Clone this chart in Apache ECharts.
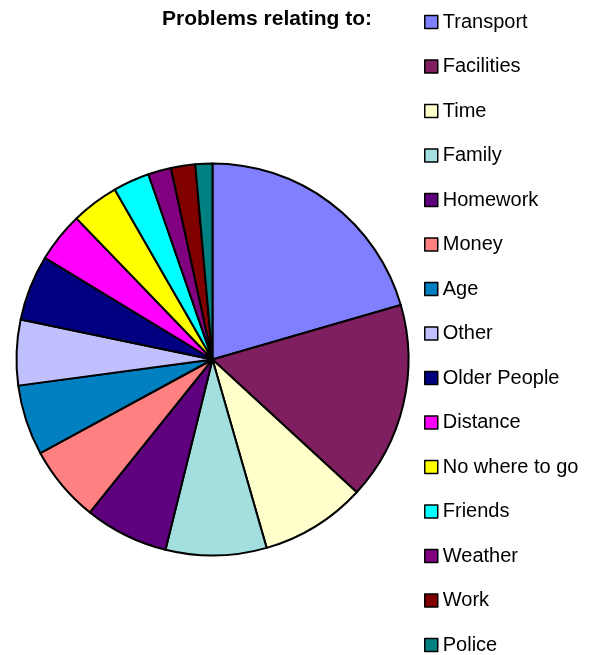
<!DOCTYPE html>
<html>
<head>
<meta charset="utf-8">
<script src="https://cdn.jsdelivr.net/npm/echarts@6/dist/echarts.min.js"></script>
<style>
  html, body { margin: 0; padding: 0; background: #fff; }
  #chart { width: 600px; height: 655px; }
</style>
</head>
<body>
<div id="chart"></div>
<script>
// Reasons given for problems, share of responses (%)
const categories = [
  'Transport', 'Facilities', 'Time', 'Family', 'Homework', 'Money', 'Age',
  'Other', 'Older People', 'Distance', 'No where to go', 'Friends',
  'Weather', 'Work', 'Police'
];
const shares = [20.5, 16.3, 8.7, 8.3, 6.9, 6.3, 5.8, 5.4, 5.4, 4.1, 3.9, 3.0, 1.9, 2.0, 1.4];
const sliceColors = [
  '#8080FF', '#7F1F5F', '#FFFFCC', '#A4DFDF', '#5F007F', '#FF8080', '#0080C0',
  '#C0C0FF', '#000080', '#FF00FF', '#FFFF00', '#00FFFF', '#800080', '#800000', '#008080'
];
const titleText = 'Problems relating to:';

const FONT = '"Liberation Sans", Arial, sans-serif';

const chart = echarts.init(document.getElementById('chart'), null, { renderer: 'canvas' });
chart.setOption({
  animation: false,
  backgroundColor: '#ffffff',
  title: {
    text: titleText,
    left: 162,
    top: 9,
    padding: 0,
    textStyle: { fontFamily: FONT, fontSize: 21, fontWeight: 'bold', color: '#000', lineHeight: 21 }
  },
  legend: {
    orient: 'vertical',
    left: 424,
    top: 12,
    padding: 0,
    itemWidth: 13,
    itemHeight: 13,
    itemGap: 24.5,
    icon: 'rect',
    selectedMode: false,
    data: categories,
    itemStyle: { borderColor: '#000', borderWidth: 1.5 },
    textStyle: { fontFamily: FONT, fontSize: 20, color: '#000', lineHeight: 20 }
  },
  series: [{
    type: 'pie',
    center: [212.5, 359.5],
    radius: [0, 196],
    startAngle: 90,
    clockwise: true,
    avoidLabelOverlap: false,
    minAngle: 0,
    label: { show: false },
    labelLine: { show: false },
    emphasis: { disabled: true },
    itemStyle: { borderColor: '#000', borderWidth: 2 },
    data: categories.map((name, i) => ({
      name: name,
      value: shares[i],
      itemStyle: { color: sliceColors[i] }
    }))
  }]
});
</script>
</body>
</html>
